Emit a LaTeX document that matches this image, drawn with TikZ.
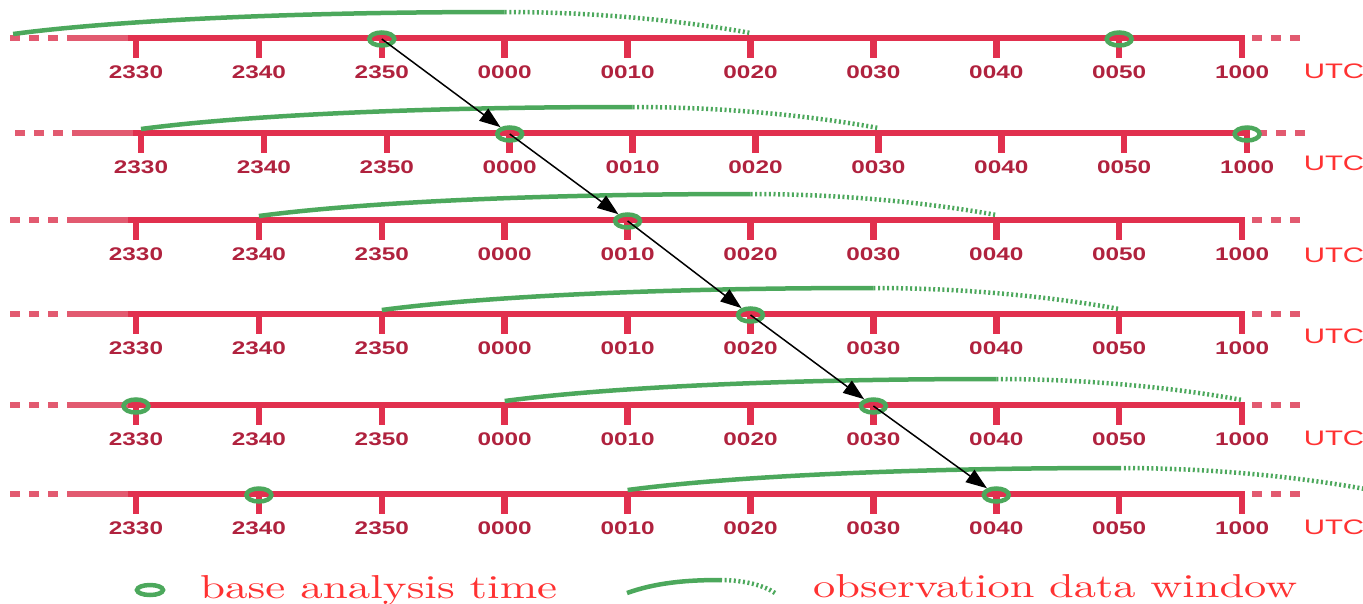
\documentclass[tikz,border=0pt]{standalone}
\usepackage{fontspec}
\usepackage{graphicx}
\newfontfamily\labfont{Liberation Sans}
\usetikzlibrary{arrows.meta,shapes.geometric}
\definecolor{axisc}{RGB}{225,48,78}
\definecolor{axisl}{RGB}{226,90,112}
\definecolor{labc}{RGB}{176,34,62}
\definecolor{utcc}{RGB}{255,50,50}
\definecolor{winc}{RGB}{76,168,92}
\tikzset{
  axisline/.style={axisc, line width=6pt},
  fadeline/.style={axisl, line width=6pt},
  dashline/.style={axisl, line width=6pt, dash pattern=on 10pt off 9pt},
  tickmark/.style={axisc, line width=6.5pt},
  ticklabel/.style={text=labc, font=\labfont\bfseries\fontsize{18.3}{20}\selectfont, inner sep=0pt, anchor=base},
  utclabel/.style={text=utcc, font=\labfont\fontsize{21}{24}\selectfont, inner sep=0pt},
  basetime/.style={ellipse, draw=winc, line width=4.5pt, minimum width=25pt, minimum height=13pt, inner sep=0pt},
  winsolid/.style={winc, line width=4.5pt},
  windotted/.style={winc, line width=4.5pt, dash pattern=on 2pt off 2.6pt},
  arr/.style={black, line width=1.5pt, -{Triangle[length=21pt,width=15pt]}},
  legendtext/.style={text=utcc, inner sep=0pt, anchor=base west}
}
\begin{document}
\begin{tikzpicture}[x=1pt,y=-1pt]
\useasboundingbox (0,0) rectangle (1363,603);
\foreach \r/\yy/\b/\s/\uy/\cl in {1/38/2/0/71/{2,8}, 2/133/3/5/163/{3,9}, 3/220/4/0/255/{4}, 4/314/5/0/336/{5}, 5/405/6/0/438/{0,6}, 6/494/7/0/527/{1,7}}{
  % axis
  \draw[dashline] (\s+10,\yy) -- (\s+68,\yy);
  \draw[fadeline] (\s+68,\yy) -- (\s+129,\yy);
  \draw[axisline] (\s+128,\yy) -- (\s+1245,\yy);
  \draw[dashline] (\s+1252,\yy) -- (\s+1300,\yy);
  \foreach \tl [count=\i from 0] in {2330,2340,2350,0000,0010,0020,0030,0040,0050,1000}{
    \draw[tickmark] (\s+136+122.9*\i,\yy) -- (\s+136+122.9*\i,\yy+20);
    \node[ticklabel] (t\r-\i) at (\s+136+122.9*\i,\yy+40.5) {\scalebox{1.33}[1]{\tl}};
  }
  \node[utclabel] (u\r) at (1334,\uy) {\scalebox{1.4}[1]{UTC}};
  % observation window
  \pgfmathsetmacro\xs{\s+136+122.9*(\b-3)}
  \pgfmathsetmacro\xp{\xs+491.6}
  \pgfmathsetmacro\xe{\xp+245.8}
  \draw[winsolid] (\xs,\yy-4) .. controls +(98,-13) and +(-221,0) .. (\xp,\yy-26);
  \draw[windotted] (\xp,\yy-26) .. controls +(98,0) and +(-60,-11) .. (\xe,\yy-5);
  % base analysis times
  \foreach \ci in \cl {
    \node[basetime] (c\r-\ci) at (\s+136+122.9*\ci,\yy+1) {};
  }
}
% arrows between consecutive base times
\draw[arr] (c1-2.center) -- (c2-3);
\draw[arr] (c2-3.center) -- (c3-4);
\draw[arr] (c3-4.center) -- (c4-5);
\draw[arr] (c4-5.center) -- (c5-6);
\draw[arr] (c5-6.center) -- (c6-7);
% legend
\node[basetime, minimum width=26pt, minimum height=10pt] (lc) at (150,590) {};
\node[legendtext] (lt1) at (200,598) {\resizebox{357pt}{23pt}{base analysis time}};
\draw[winsolid] (627,593) .. controls (655,583) and (685,580) .. (720,580);
\draw[windotted] (720,580) .. controls (745,580) and (765,586) .. (775,593);
\node[legendtext] (lt2) at (813,597) {\resizebox{484pt}{23pt}{observation data window}};
\end{tikzpicture}
\end{document}
